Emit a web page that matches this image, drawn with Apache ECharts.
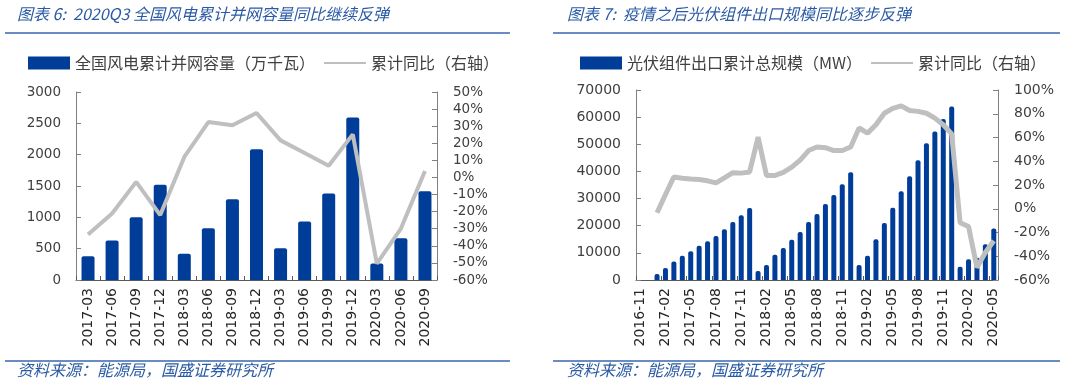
<!DOCTYPE html>
<html>
<head>
<meta charset="utf-8">
<script src="https://cdn.jsdelivr.net/npm/echarts@6/dist/echarts.min.js"></script>
<style>
html,body{margin:0;padding:0;background:#fff;}
#left{position:absolute;left:0;top:0;width:540px;height:386px;}
#right{position:absolute;left:540px;top:0;width:540px;height:386px;}
</style>
</head>
<body>
<div id="left"></div>
<div id="right"></div>
<script>
// ---------- Data: left chart (wind) ----------
const leftTitle = '图表 6:  2020Q3 全国风电累计并网容量同比继续反弹';
const leftBarName = '全国风电累计并网容量（万千瓦）';
const leftLineName = '累计同比（右轴）';
const leftCats = ['2017-03','2017-06','2017-09','2017-12','2018-03','2018-06','2018-09','2018-12','2019-03','2019-06','2019-09','2019-12','2020-03','2020-06','2020-09'];
const leftBars = [380, 630, 1000, 1520, 420, 825, 1290, 2085, 505, 935, 1380, 2595, 265, 665, 1415];
const leftYoy = [-33.4, -21.1, -2.6, -22.0, 12.0, 32.4, 30.5, 37.7, 21.7, 14.3, 6.9, 25.2, -50.4, -29.9, 3.8];

// ---------- Data: right chart (PV export) ----------
const rightTitle = '图表 7:  疫情之后光伏组件出口规模同比逐步反弹';
const rightBarName = '光伏组件出口累计总规模（MW）';
const rightLineName = '累计同比（右轴）';
const rightCats = ['2016-11','2016-12',
 '2017-01','2017-02','2017-03','2017-04','2017-05','2017-06','2017-07','2017-08','2017-09','2017-10','2017-11','2017-12',
 '2018-01','2018-02','2018-03','2018-04','2018-05','2018-06','2018-07','2018-08','2018-09','2018-10','2018-11','2018-12',
 '2019-01','2019-02','2019-03','2019-04','2019-05','2019-06','2019-07','2019-08','2019-09','2019-10','2019-11','2019-12',
 '2020-01','2020-02','2020-03','2020-04','2020-05'];
const rightBars = [null, null,
 2200, 4400, 6800, 8900, 10600, 12600, 14300, 16200, 18700, 21400, 23900, 26500,
 3300, 5500, 9300, 11800, 14800, 17700, 21400, 24300, 28000, 31300, 35300, 39700,
 5500, 8900, 15000, 21000, 26600, 32700, 38200, 44100, 50400, 54700, 59300, 63900,
 4900, 7600, 8200, 13200, 19000];
const rightYoy = [null, null,
 -3.4, 12, 26.8, 25.7, 25, 24.6, 23.5, 21.8, 26, 30.4, 30, 31,
 60.3, 28, 28, 30.7, 35, 41, 49, 52, 51.4, 49, 49, 52,
 68, 63.7, 70.7, 80.4, 84.6, 86.6, 82.7, 82, 80.4, 76.3, 70.7, 63,
 -11.7, -15, -49.4, -36.9, -27];

const source = '资料来源：能源局，国盛证券研究所';

const BLUE = '#003D99';
const GRAY = '#BFBFBF';
const TXT_BLUE = '#2A5AA5';
const RULE = '#3A66AE';
const LABEL = '#404040';
const FONT = '"DejaVu Sans", Verdana, sans-serif';
const CJK = '"Noto Sans CJK SC", sans-serif';

function decor(title, lineX1, lineX2, textX) {
  return [
    {type:'text', left:textX, top:6, style:{text:title, fill:TXT_BLUE, font:'italic 16px ' + CJK}},
    {type:'line', shape:{x1:lineX1, y1:33, x2:lineX2, y2:33}, style:{stroke:RULE, lineWidth:1.5}},
    {type:'line', shape:{x1:lineX1, y1:361, x2:lineX2, y2:361}, style:{stroke:RULE, lineWidth:1.5}},
    {type:'text', left:textX, top:362, style:{text:source, fill:TXT_BLUE, font:'italic 16px ' + CJK}}
  ];
}

function build(cfg) {
  return {
    animation:false,
    backgroundColor:'#fff',
    graphic: decor(cfg.title, cfg.lineX1, cfg.lineX2, cfg.textX),
    legend: {
      left: cfg.legendLeft, top: 50, itemWidth: 42, itemHeight: 13, itemGap: 8,
      textStyle: {fontFamily: CJK, fontSize: 16, color: LABEL},
      data: [
        {name: cfg.barName, icon: 'rect'},
        {name: cfg.lineName, itemStyle: {opacity: 0}}
      ]
    },
    grid: {left: cfg.gridLeft, right: cfg.gridRight, top: cfg.gridTop, height: cfg.gridHeight},
    xAxis: {
      type: 'category', data: cfg.cats, boundaryGap: true,
      axisLine: {lineStyle: {color: '#595959', width: 1}},
      axisTick: {show: true, inside: true, length: 4, interval: cfg.labelInterval, lineStyle: {color: '#595959'}},
      axisLabel: {rotate: 90, interval: cfg.labelInterval, fontFamily: FONT, fontSize: 14, color: '#262626', margin: 8}
    },
    yAxis: [
      {type: 'value', min: 0, max: cfg.leftMax, interval: cfg.leftInterval,
       splitLine: {show: false},
       axisLine: {show: true, lineStyle: {color: '#808080'}},
       axisTick: {show: true, inside: true, length: 5, lineStyle: {color: '#808080'}},
       axisLabel: {fontFamily: FONT, fontSize: cfg.yFont, color: LABEL, margin: 15,
                   formatter: function (v) { return String(v); }}},
      {type: 'value', min: cfg.rMin, max: cfg.rMax, interval: cfg.rInterval,
       splitLine: {show: false},
       axisLine: {show: true, lineStyle: {color: '#808080'}},
       axisTick: {show: true, inside: true, length: 5, lineStyle: {color: '#808080'}},
       axisLabel: {fontFamily: FONT, fontSize: cfg.yFont, color: LABEL, margin: 16,
                   formatter: function (v) { return v + '%'; }}}
    ],
    series: [
      {name: cfg.barName, type: 'bar', data: cfg.bars, barWidth: cfg.barWidth,
       itemStyle: {color: BLUE, borderRadius: [2, 2, 0, 0]}},
      {name: cfg.lineName, type: 'line', yAxisIndex: 1, data: cfg.yoy, symbol: 'none',
       connectNulls: false,
       lineStyle: {color: GRAY, width: cfg.lineWidth}, itemStyle: {color: GRAY}}
    ]
  };
}

const left = echarts.init(document.getElementById('left'), null, {renderer: 'canvas'});
left.setOption(build({
  title: leftTitle, lineX1: 5, lineX2: 510, textX: 17,
  barName: leftBarName, lineName: leftLineName, legendLeft: 23,
  gridLeft: 76, gridRight: 103, gridTop: 92, gridHeight: 188,
  cats: leftCats, bars: leftBars, yoy: leftYoy, labelInterval: 0,
  leftMax: 3000, leftInterval: 500, rMin: -60, rMax: 50, rInterval: 10,
  yFont: 13.5, barWidth: 13, lineWidth: 4
}));

const right = echarts.init(document.getElementById('right'), null, {renderer: 'canvas'});
right.setOption(build({
  title: rightTitle, lineX1: 13, lineX2: 520, textX: 27,
  barName: rightBarName, lineName: rightLineName, legendLeft: 35,
  gridLeft: 96, gridRight: 82, gridTop: 90, gridHeight: 190,
  cats: rightCats, bars: rightBars, yoy: rightYoy, labelInterval: 2,
  leftMax: 70000, leftInterval: 10000, rMin: -60, rMax: 100, rInterval: 20,
  yFont: 14, barWidth: 5, lineWidth: 5
}));
</script>
</body>
</html>
